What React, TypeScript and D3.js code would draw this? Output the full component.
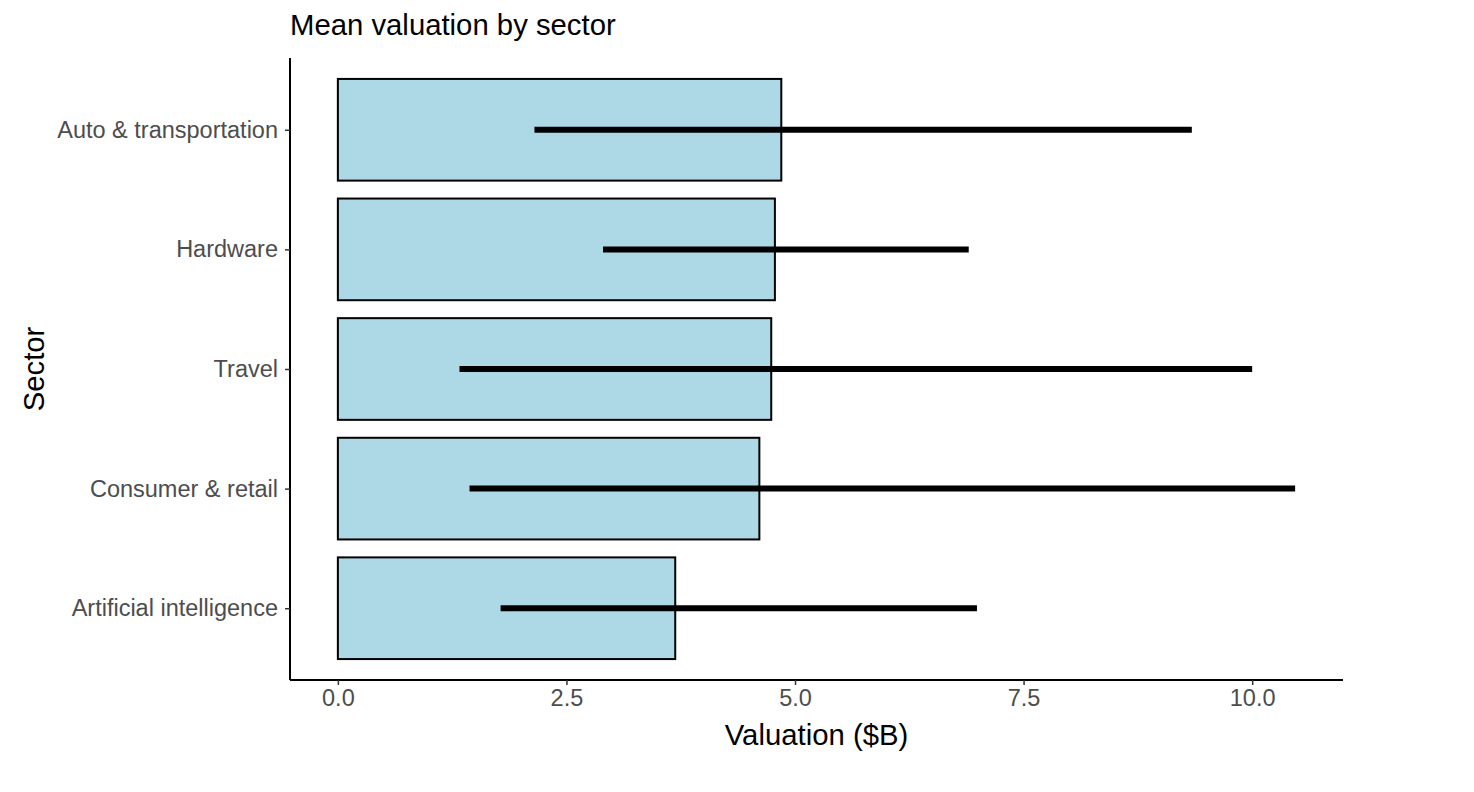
import { useEffect, useRef } from 'react'
import * as d3 from 'd3'

const W = 1474
const H = 792

const sectors = ['Auto & transportation', 'Hardware', 'Travel', 'Consumer & retail', 'Artificial intelligence']
const meanValues = [4.85, 4.78, 4.74, 4.61, 3.69]
const lowValues = [2.15, 2.9, 1.33, 1.44, 1.78]
const highValues = [9.34, 6.9, 10.0, 10.47, 6.99]
const xTicks = [0, 2.5, 5, 7.5, 10]

const MARGIN = { top: 58, right: 131, bottom: 112, left: 290 }
const FILL = '#ADD8E6'
const TICK_TEXT = '#4D4D4D'
const FONT = "'Liberation Sans', Arial, sans-serif"
const TICK_SIZE = '23.5px'
const TITLE_SIZE = '29.3px'

export default function App() {
  const svgRef = useRef<SVGSVGElement>(null)

  useEffect(() => {
    document.body.style.margin = '0'
    const svg = d3.select(svgRef.current)
    svg.selectAll('*').remove()

    const w = W - MARGIN.left - MARGIN.right
    const h = H - MARGIN.top - MARGIN.bottom

    const dataMax = d3.max(highValues) ?? 0
    const pad = dataMax * 0.05
    const x = d3.scaleLinear().domain([0 - pad, dataMax + pad]).range([0, w])

    // discrete scale with ggplot's 0.6 expansion
    const n = sectors.length
    const step = h / (n - 1 + 1.2)
    const yc = (i: number) => step * 0.6 + i * step
    const barH = step * 0.85

    const g = svg.append('g').attr('transform', `translate(${MARGIN.left},${MARGIN.top})`)

    const rows = sectors.map((s, i) => ({ s, mean: meanValues[i], lo: lowValues[i], hi: highValues[i], i }))

    g.selectAll('rect.bar')
      .data(rows)
      .join('rect')
      .attr('class', 'bar')
      .attr('x', x(0))
      .attr('y', (d) => yc(d.i) - barH / 2)
      .attr('width', (d) => x(d.mean) - x(0))
      .attr('height', barH)
      .attr('fill', FILL)
      .attr('stroke', '#000')
      .attr('stroke-width', 2)

    g.selectAll('line.err')
      .data(rows)
      .join('line')
      .attr('class', 'err')
      .attr('x1', (d) => x(d.lo))
      .attr('x2', (d) => x(d.hi))
      .attr('y1', (d) => yc(d.i))
      .attr('y2', (d) => yc(d.i))
      .attr('stroke', '#000')
      .attr('stroke-width', 6)

    // x axis
    const xAxis = d3.axisBottom(x).tickValues(xTicks).tickFormat(d3.format('.1f')).tickSize(5).tickPadding(4)
    g.append('g')
      .attr('transform', `translate(0,${h})`)
      .call(xAxis)
      .call((a) => a.select('.domain').attr('stroke', '#000').attr('stroke-width', 2).attr('d', `M0,0H${w}`))
      .call((a) => a.selectAll('.tick line').attr('stroke', '#333').attr('stroke-width', 1.5))
      .call((a) => a.selectAll('.tick text').attr('fill', TICK_TEXT).attr('font-size', TICK_SIZE).attr('font-family', FONT).attr('dy', '0.72em'))

    // y axis
    const yScale = d3.scalePoint<string>().domain(sectors).range([yc(0), yc(n - 1)])
    const yAxis = d3.axisLeft(yScale).tickSize(5).tickPadding(7)
    g.append('g')
      .call(yAxis)
      .call((a) => a.select('.domain').attr('stroke', '#000').attr('stroke-width', 2).attr('d', `M0,0V${h}`))
      .call((a) => a.selectAll('.tick line').attr('stroke', '#333').attr('stroke-width', 1.5))
      .call((a) => a.selectAll('.tick text').attr('fill', TICK_TEXT).attr('font-size', TICK_SIZE).attr('font-family', FONT))

    svg.append('text')
      .attr('x', MARGIN.left + w / 2)
      .attr('y', 745)
      .attr('text-anchor', 'middle')
      .attr('font-size', TITLE_SIZE)
      .attr('font-family', FONT)
      .attr('fill', '#000')
      .text('Valuation ($B)')

    svg.append('text')
      .attr('transform', `translate(44,${MARGIN.top + h / 2}) rotate(-90)`)
      .attr('text-anchor', 'middle')
      .attr('font-size', TITLE_SIZE)
      .attr('font-family', FONT)
      .attr('fill', '#000')
      .text('Sector')

    svg.append('text')
      .attr('x', MARGIN.left)
      .attr('y', 35)
      .attr('font-size', TITLE_SIZE)
      .attr('font-family', FONT)
      .attr('fill', '#000')
      .text('Mean valuation by sector')
  }, [])

  return <svg ref={svgRef} width={W} height={H} style={{ display: 'block', background: '#fff' }} />
}
